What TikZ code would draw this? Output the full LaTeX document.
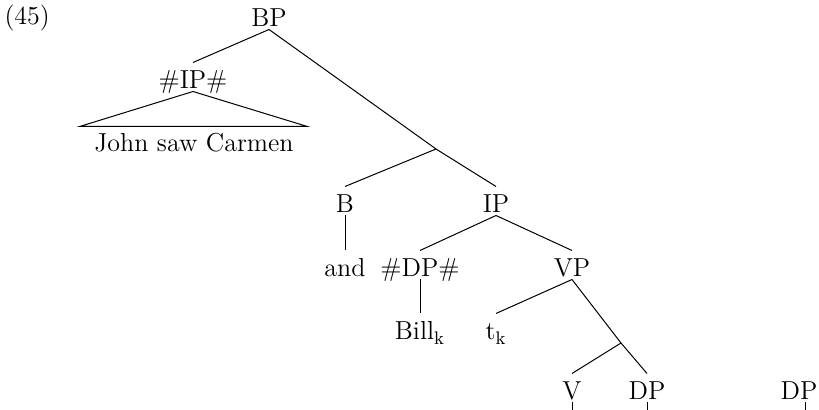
\documentclass[tikz,border=0pt]{standalone}
\usepackage{amsmath}
\usepackage{tikz}

\begin{document}
\begin{tikzpicture}[x=0.5pt, y=-0.5pt, line width=0.5pt, every node/.style={anchor=base, inner sep=0pt, text height=13pt, text depth=1pt, font=\fontsize{13}{15}\selectfont}]
            \useasboundingbox (0,0) rectangle (819,410);
            \node[anchor=base west] (ex) at (4,25) {(45)};

            \node (BP)   at (269,27)  {BP};
            \node (IPh)  at (193,89)  {\#IP\#};
            \node (JSC)  at (194,152) {John saw Carmen};
            \coordinate (tl) at (80,126.4);
            \coordinate (tr) at (307,126.4);
            \coordinate (n1) at (436,149);
            \node (B)    at (345,213) {B};
            \node (IP)   at (496,213) {IP};
            \node (and)  at (345,277) {and};
            \node (DPh)  at (420,277) {\#DP\#};
            \node (VP)   at (572,277) {VP};
            \node (Bill) at (420,340) {Bill\textsubscript{k}};
            \node (t)    at (496,340) {t\textsubscript{k}};
            \coordinate (n2) at (621,343);
            \node (V)    at (572,400) {V};
            \node (DP)   at (647,400) {DP};
            \node (DPb)  at (799,400) {DP};
            \coordinate (Vd)   at (572,410);
            \coordinate (DPd)  at (647,410);
            \coordinate (DPbd) at (805,410);

            \draw (BP.south) -- (IPh.north);
            \draw (BP.south) -- (n1);
            \draw (IPh.south) -- (tl) -- (tr) -- cycle;
            \draw (n1) -- (B.north);
            \draw (n1) -- (IP.north);
            \draw (B.south) -- (and.north);
            \draw (IP.south) -- (DPh.north);
            \draw (IP.south) -- (VP.north);
            \draw (DPh.south) -- (Bill.north);
            \draw (VP.south) -- (t.north);
            \draw (VP.south) -- (n2);
            \draw (n2) -- (V.north);
            \draw (n2) -- (DP.north);
            \draw (V.south) -- (Vd);
            \draw (DP.south) -- (DPd);
            \draw (DPb.south -| DPbd) -- (DPbd);
        \end{tikzpicture}
\end{document}
